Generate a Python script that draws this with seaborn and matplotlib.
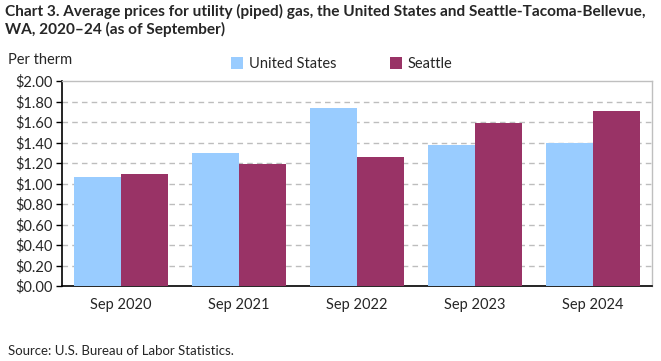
import pandas as pd
import numpy as np
import matplotlib
matplotlib.use("Agg")
import matplotlib.pyplot as plt
import seaborn as sns

# data
periods = ["Sep 2020", "Sep 2021", "Sep 2022", "Sep 2023", "Sep 2024"]
us_price = [1.062, 1.295, 1.734, 1.373, 1.396]
seattle_price = [1.091, 1.188, 1.256, 1.591, 1.705]
series_names = ["United States", "Seattle"]
y_ticks = [0.0, 0.2, 0.4, 0.6, 0.8, 1.0, 1.2, 1.4, 1.6, 1.8, 2.0]

df = pd.DataFrame({
    "period": periods * 2,
    "price": us_price + seattle_price,
    "series": [series_names[0]] * len(periods) + [series_names[1]] * len(periods),
})

sns.set_style("white")
plt.rcParams["font.family"] = ["Lato", "DejaVu Sans"]

fig = plt.figure(figsize=(6.61, 3.61), dpi=100)
ax = fig.add_axes([62 / 661, 1 - 286 / 361, 590 / 661, 205 / 361])

pal = {"United States": "#99CCFF", "Seattle": "#993366"}
sns.barplot(data=df, x="period", y="price", hue="series", palette=pal,
            width=0.8, saturation=1, ax=ax, zorder=3, legend=True, linewidth=0)

ax.set_ylim(0, 2.0)
ax.set_xlim(-0.5, 4.5)
ax.set_yticks(y_ticks)
ax.set_yticklabels([f"${v:.2f}" for v in y_ticks], fontsize=10.5)
ax.tick_params(axis="x", length=0, labelsize=10.5, pad=9)
ax.tick_params(axis="y", length=4, width=1, color="black", pad=3, left=True)
ax.set_xlabel("")
ax.set_ylabel("")

# dashed grid like the original
for v in y_ticks[1:-1]:
    ax.axhline(v, color="#BDBDBD", lw=1, ls=(0, (4, 3)), zorder=2)

for s in ["top", "right"]:
    ax.spines[s].set_color("#BFBFBF")
    ax.spines[s].set_linewidth(1)
for s in ["left", "bottom"]:
    ax.spines[s].set_color("black")
    ax.spines[s].set_linewidth(1.2)

handles, labels = ax.get_legend_handles_labels()
ax.get_legend().remove()
fig.legend(handles, labels, loc="center left", bbox_to_anchor=(218 / 661, 1 - 64 / 361),
           ncol=2, frameon=False, fontsize=10.5, handlelength=0.8, handleheight=0.8,
           handletextpad=0.4, columnspacing=3.7)

fig.text(5 / 661, 1 - 4 / 361,
         "Chart 3. Average prices for utility (piped) gas, the United States and Seattle-Tacoma-Bellevue,\nWA, 2020\u201324 (as of September)",
         fontsize=11.1, fontweight="bold", va="top", ha="left", linespacing=1.25)
fig.text(8 / 661, 1 - 60 / 361, "Per therm", fontsize=10.5, va="center", ha="left")
fig.text(8 / 661, 1 - 351 / 361, "Source: U.S. Bureau of Labor Statistics.", fontsize=9.5,
         va="center", ha="left")

fig.savefig("out.png", dpi=100)
